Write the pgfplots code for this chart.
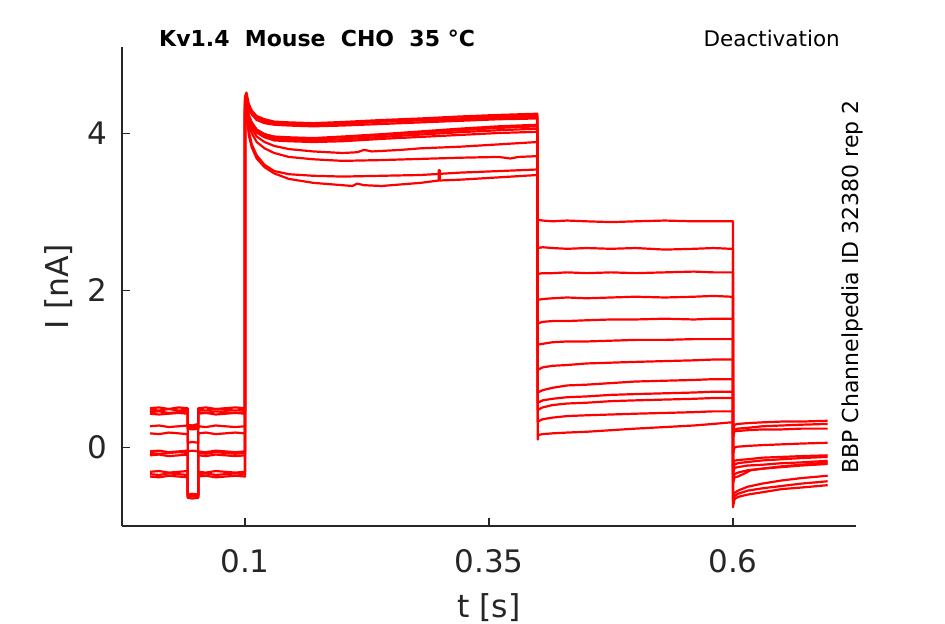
\documentclass[border=0pt]{standalone}
\usepackage{pgfplots}
\pgfplotsset{compat=1.18}
\usepackage{fontspec}
\setmainfont{DejaVu Sans}
\definecolor{axgray}{HTML}{262626}
\begin{document}
\begin{tikzpicture}
\path[use as bounding box] (-122bp,-98bp) rectangle (823bp,526bp);
\begin{axis}[
  at={(0,0)}, anchor=south west, scale only axis,
  width=734bp, height=479bp,
  xmin=-0.026, xmax=0.726, ymin=-1, ymax=5.1,
  axis x line*=bottom, axis y line*=left,
  axis line style={-, axgray, line width=1.2bp},
  every tick/.style={axgray, line width=1.2bp},
  tick align=inside, major tick length=8bp,
  xtick={0.1,0.35,0.6}, xticklabels={0.1,0.35,0.6},
  ytick={0,2,4}, yticklabels={0,2,4},
  xticklabel style={font=\fontsize{31bp}{37bp}\selectfont, text=axgray, inner sep=0pt, yshift=-23bp},
  yticklabel style={font=\fontsize{31bp}{37bp}\selectfont, text=axgray, inner sep=0pt, xshift=-15bp},
  xlabel={t [s]}, ylabel={I [nA]},
  xlabel style={font=\fontsize{31.5bp}{37bp}\selectfont, text=axgray, at={(axis description cs:0.5,-0.19207)}, anchor=base},
  ylabel style={font=\fontsize{31.5bp}{37bp}\selectfont, text=axgray, at={(axis description cs:-0.07357,0.5)}, anchor=base, rotate=0},
  tr/.style={red, line width=2.2bp, line join=round},
]
% T1
\addplot[tr] coordinates {(0.0027,0.50)(0.012,0.51)(0.022,0.49)(0.032,0.51)(0.0413,0.50)(0.0413,0.29)(0.046,0.28)(0.0522,0.30)(0.0522,0.50)(0.06,0.51)(0.07,0.49)(0.08,0.50)(0.09,0.51)(0.1,0.50)
(0.1,4.47)(0.1015,4.52)(0.104,4.37)(0.107,4.29)(0.112,4.22)(0.12,4.18)(0.13,4.15)(0.145,4.14)(0.17,4.13)(0.2,4.145)(0.24,4.17)(0.28,4.19)(0.32,4.215)(0.36,4.235)(0.3995,4.25)
(0.4,2.90)(0.405,2.89)(0.415,2.88)(0.43,2.89)(0.45,2.88)(0.475,2.87)(0.5,2.88)(0.53,2.89)(0.56,2.88)(0.58,2.88)(0.598,2.88)
(0.6,2.88)(0.6,0.21)(0.6015,0.29)(0.605,0.30)(0.615,0.31)(0.63,0.32)(0.65,0.33)(0.67,0.33)(0.697,0.34)};
% T2
\addplot[tr] coordinates {(0.0027,0.48)(0.012,0.47)(0.022,0.49)(0.032,0.47)(0.0413,0.48)(0.0413,0.27)(0.046,0.26)(0.0522,0.28)(0.0522,0.48)(0.06,0.47)(0.07,0.49)(0.08,0.48)(0.09,0.47)(0.1,0.48)
(0.1,4.43)(0.1015,4.48)(0.104,4.34)(0.107,4.27)(0.112,4.20)(0.12,4.15)(0.13,4.13)(0.145,4.12)(0.17,4.115)(0.2,4.12)(0.24,4.15)(0.28,4.17)(0.32,4.19)(0.36,4.22)(0.3995,4.23)
(0.4,2.54)(0.405,2.55)(0.415,2.54)(0.43,2.53)(0.45,2.54)(0.475,2.53)(0.5,2.54)(0.53,2.52)(0.56,2.53)(0.58,2.54)(0.598,2.53)
(0.6,2.53)(0.6,0.15)(0.6015,0.23)(0.605,0.24)(0.615,0.25)(0.63,0.27)(0.65,0.28)(0.67,0.29)(0.697,0.30)};
% T3
\addplot[tr] coordinates {(0.0027,0.45)(0.012,0.46)(0.022,0.44)(0.032,0.45)(0.0413,0.46)(0.0413,0.25)(0.046,0.26)(0.0522,0.24)(0.0522,0.45)(0.06,0.44)(0.07,0.46)(0.08,0.45)(0.09,0.44)(0.1,0.45)
(0.1,4.41)(0.1015,4.46)(0.104,4.33)(0.107,4.26)(0.112,4.20)(0.12,4.16)(0.13,4.14)(0.145,4.13)(0.17,4.12)(0.2,4.13)(0.24,4.15)(0.28,4.165)(0.32,4.18)(0.36,4.20)(0.3995,4.21)
(0.4,2.21)(0.405,2.22)(0.415,2.22)(0.43,2.23)(0.45,2.22)(0.475,2.23)(0.5,2.22)(0.53,2.23)(0.56,2.24)(0.58,2.23)(0.598,2.23)
(0.6,2.23)(0.6,0.13)(0.6015,0.21)(0.605,0.21)(0.615,0.22)(0.63,0.23)(0.65,0.23)(0.67,0.24)(0.697,0.24)};
% T4
\addplot[tr] coordinates {(0.0027,0.43)(0.012,0.42)(0.022,0.43)(0.032,0.44)(0.0413,0.43)(0.0413,0.24)(0.046,0.23)(0.0522,0.24)(0.0522,0.43)(0.06,0.44)(0.07,0.42)(0.08,0.43)(0.09,0.44)(0.1,0.43)
(0.1,4.39)(0.1015,4.44)(0.104,4.31)(0.107,4.24)(0.112,4.17)(0.12,4.13)(0.13,4.11)(0.145,4.10)(0.17,4.09)(0.2,4.10)(0.24,4.12)(0.28,4.14)(0.32,4.16)(0.36,4.18)(0.3995,4.19)
(0.4,1.88)(0.405,1.89)(0.415,1.90)(0.43,1.91)(0.45,1.90)(0.475,1.91)(0.5,1.92)(0.53,1.91)(0.56,1.92)(0.58,1.93)(0.598,1.92)
(0.6,1.92)(0.6,-0.08)(0.6015,0.00)(0.605,0.01)(0.615,0.02)(0.63,0.03)(0.65,0.04)(0.67,0.05)(0.697,0.06)};
% T5
\addplot[tr] coordinates {(0.0027,0.27)(0.012,0.28)(0.022,0.26)(0.032,0.27)(0.0413,0.28)(0.0413,0.06)(0.046,0.07)(0.0522,0.06)(0.0522,0.27)(0.06,0.26)(0.07,0.28)(0.08,0.27)(0.09,0.26)(0.1,0.27)
(0.1,4.37)(0.1015,4.42)(0.104,4.23)(0.107,4.14)(0.112,4.05)(0.12,3.99)(0.13,3.95)(0.145,3.94)(0.17,3.93)(0.2,3.95)(0.24,3.98)(0.28,4.01)(0.32,4.04)(0.36,4.07)(0.3995,4.09)
(0.4,1.58)(0.405,1.60)(0.415,1.61)(0.43,1.61)(0.45,1.62)(0.475,1.63)(0.5,1.63)(0.53,1.64)(0.56,1.63)(0.58,1.64)(0.598,1.64)
(0.6,1.64)(0.6,-0.25)(0.6015,-0.17)(0.605,-0.16)(0.615,-0.15)(0.63,-0.13)(0.65,-0.12)(0.67,-0.11)(0.697,-0.10)};
% T6
\addplot[tr] coordinates {(0.0027,0.18)(0.012,0.17)(0.022,0.19)(0.032,0.18)(0.0413,0.17)(0.0413,-0.05)(0.046,-0.04)(0.0522,-0.05)(0.0522,0.18)(0.06,0.19)(0.07,0.17)(0.08,0.18)(0.09,0.19)(0.1,0.18)
(0.1,4.35)(0.1015,4.40)(0.104,4.21)(0.107,4.12)(0.112,4.03)(0.12,3.97)(0.13,3.93)(0.145,3.92)(0.17,3.91)(0.2,3.925)(0.24,3.955)(0.28,3.985)(0.32,4.015)(0.36,4.04)(0.3995,4.06)
(0.4,1.31)(0.405,1.32)(0.415,1.34)(0.43,1.35)(0.45,1.35)(0.475,1.36)(0.5,1.37)(0.53,1.37)(0.56,1.38)(0.58,1.38)(0.598,1.38)
(0.6,1.38)(0.6,-0.30)(0.6015,-0.22)(0.605,-0.20)(0.615,-0.185)(0.63,-0.165)(0.65,-0.15)(0.67,-0.135)(0.697,-0.12)};
% T7
\addplot[tr] coordinates {(0.0027,-0.05)(0.012,-0.04)(0.022,-0.06)(0.032,-0.05)(0.0413,-0.04)(0.0413,-0.60)(0.046,-0.59)(0.0522,-0.60)(0.0522,-0.05)(0.06,-0.06)(0.07,-0.04)(0.08,-0.05)(0.09,-0.06)(0.1,-0.05)
(0.1,4.33)(0.1015,4.38)(0.104,4.19)(0.107,4.10)(0.112,4.01)(0.12,3.95)(0.13,3.91)(0.145,3.90)(0.17,3.89)(0.2,3.90)(0.24,3.93)(0.28,3.955)(0.32,3.98)(0.36,4.005)(0.3995,4.02)
(0.4,0.99)(0.405,1.02)(0.415,1.04)(0.43,1.05)(0.45,1.07)(0.475,1.08)(0.5,1.09)(0.53,1.10)(0.56,1.11)(0.58,1.12)(0.598,1.12)
(0.6,1.12)(0.6,-0.34)(0.6015,-0.26)(0.605,-0.25)(0.615,-0.23)(0.63,-0.22)(0.65,-0.20)(0.67,-0.19)(0.697,-0.17)};
% T8
\addplot[tr] coordinates {(0.0027,-0.07)(0.012,-0.08)(0.022,-0.07)(0.032,-0.06)(0.0413,-0.07)(0.0413,-0.61)(0.046,-0.62)(0.0522,-0.61)(0.0522,-0.07)(0.06,-0.08)(0.07,-0.06)(0.08,-0.07)(0.09,-0.08)(0.1,-0.07)
(0.1,4.31)(0.1015,4.36)(0.104,4.20)(0.107,4.12)(0.112,4.04)(0.12,3.99)(0.13,3.96)(0.145,3.95)(0.17,3.94)(0.2,3.96)(0.24,3.99)(0.28,4.025)(0.32,4.06)(0.36,4.09)(0.3995,4.11)
(0.4,0.70)(0.405,0.73)(0.415,0.76)(0.43,0.79)(0.45,0.80)(0.475,0.82)(0.5,0.84)(0.53,0.85)(0.56,0.86)(0.58,0.87)(0.598,0.87)
(0.6,0.87)(0.6,-0.42)(0.6015,-0.34)(0.605,-0.32)(0.615,-0.29)(0.63,-0.27)(0.65,-0.24)(0.67,-0.22)(0.697,-0.19)};
% T9
\addplot[tr] coordinates {(0.0027,-0.10)(0.012,-0.09)(0.022,-0.11)(0.032,-0.10)(0.0413,-0.09)(0.0413,-0.62)(0.046,-0.61)(0.0522,-0.62)(0.0522,-0.10)(0.06,-0.11)(0.07,-0.09)(0.08,-0.10)(0.09,-0.11)(0.1,-0.10)
(0.1,4.29)(0.1015,4.34)(0.104,4.16)(0.107,4.06)(0.112,3.96)(0.12,3.89)(0.13,3.84)(0.145,3.80)(0.17,3.77)(0.2,3.75)(0.215,3.76)(0.222,3.79)(0.23,3.77)(0.26,3.79)(0.28,3.81)(0.32,3.83)(0.36,3.86)(0.3995,3.89)
(0.4,0.57)(0.405,0.60)(0.415,0.62)(0.43,0.64)(0.45,0.65)(0.475,0.67)(0.5,0.68)(0.53,0.69)(0.56,0.70)(0.58,0.71)(0.598,0.71)
(0.6,0.71)(0.6,-0.46)(0.6015,-0.38)(0.605,-0.37)(0.612,-0.33)(0.618,-0.29)(0.63,-0.27)(0.65,-0.25)(0.67,-0.23)(0.697,-0.21)};
% T10
\addplot[tr] coordinates {(0.0027,-0.31)(0.012,-0.30)(0.022,-0.32)(0.032,-0.31)(0.0413,-0.30)(0.0413,-0.60)(0.046,-0.61)(0.0522,-0.60)(0.0522,-0.31)(0.06,-0.32)(0.07,-0.30)(0.08,-0.31)(0.09,-0.32)(0.1,-0.31)
(0.1,4.27)(0.1015,4.32)(0.104,4.12)(0.107,4.00)(0.112,3.89)(0.12,3.81)(0.13,3.75)(0.145,3.70)(0.17,3.67)(0.2,3.65)(0.24,3.66)(0.28,3.675)(0.32,3.69)(0.36,3.70)(0.372,3.68)(0.38,3.70)(0.3995,3.71)
(0.4,0.48)(0.405,0.51)(0.415,0.54)(0.43,0.56)(0.45,0.57)(0.475,0.59)(0.5,0.60)(0.53,0.61)(0.56,0.62)(0.58,0.63)(0.598,0.63)
(0.6,0.63)(0.6,-0.66)(0.6015,-0.58)(0.605,-0.55)(0.615,-0.50)(0.63,-0.46)(0.65,-0.42)(0.67,-0.39)(0.697,-0.36)};
% T11
\addplot[tr] coordinates {(0.0027,-0.34)(0.012,-0.35)(0.022,-0.33)(0.032,-0.34)(0.0413,-0.35)(0.0413,-0.63)(0.046,-0.62)(0.0522,-0.63)(0.0522,-0.34)(0.06,-0.33)(0.07,-0.35)(0.08,-0.34)(0.09,-0.33)(0.1,-0.34)
(0.1,4.25)(0.1015,4.30)(0.104,4.02)(0.107,3.86)(0.112,3.72)(0.12,3.60)(0.13,3.52)(0.145,3.48)(0.17,3.46)(0.2,3.45)(0.24,3.46)(0.28,3.47)(0.32,3.50)(0.36,3.52)(0.3995,3.54)
(0.4,0.33)(0.405,0.36)(0.415,0.38)(0.43,0.40)(0.45,0.41)(0.475,0.42)(0.5,0.43)(0.53,0.44)(0.56,0.45)(0.58,0.46)(0.598,0.46)
(0.6,0.46)(0.6,-0.70)(0.6015,-0.62)(0.605,-0.59)(0.615,-0.55)(0.63,-0.52)(0.65,-0.49)(0.67,-0.46)(0.697,-0.43)};
% T12
\addplot[tr] coordinates {(0.0027,-0.37)(0.012,-0.38)(0.022,-0.36)(0.032,-0.37)(0.0413,-0.38)(0.0413,-0.64)(0.046,-0.65)(0.0522,-0.64)(0.0522,-0.37)(0.06,-0.36)(0.07,-0.38)(0.08,-0.37)(0.09,-0.36)(0.1,-0.37)
(0.1,4.23)(0.1015,4.28)(0.104,3.97)(0.107,3.82)(0.112,3.68)(0.12,3.57)(0.13,3.49)(0.145,3.42)(0.17,3.37)(0.2,3.34)(0.21,3.33)(0.215,3.36)(0.222,3.34)(0.24,3.33)(0.26,3.35)(0.28,3.37)(0.2985,3.40)(0.2985,3.53)(0.2995,3.53)(0.2995,3.40)(0.32,3.41)(0.36,3.44)(0.3995,3.47)
(0.4,0.10)(0.4005,0.16)(0.405,0.17)(0.415,0.18)(0.43,0.19)(0.45,0.20)(0.475,0.22)(0.5,0.24)(0.53,0.26)(0.56,0.28)(0.58,0.30)(0.598,0.32)
(0.6,0.32)(0.6,-0.76)(0.6015,-0.66)(0.605,-0.63)(0.615,-0.60)(0.63,-0.57)(0.65,-0.53)(0.67,-0.51)(0.697,-0.48)};
\end{axis}
\node[anchor=base west, inner sep=0pt, font=\bfseries\fontsize{22bp}{26bp}\selectfont] at (37bp,479bp) {Kv1.4\ \ Mouse\ \ CHO\ \ 35 °C};
\node[anchor=base east, inner sep=0pt, font=\fontsize{21.5bp}{26bp}\selectfont] at (718bp,479bp) {Deactivation};
\node[anchor=base, rotate=90, inner sep=0pt, font=\fontsize{22bp}{26bp}\selectfont] at (736bp,239bp) {BBP Channelpedia ID 32380 rep 2};
\end{tikzpicture}
\end{document}
